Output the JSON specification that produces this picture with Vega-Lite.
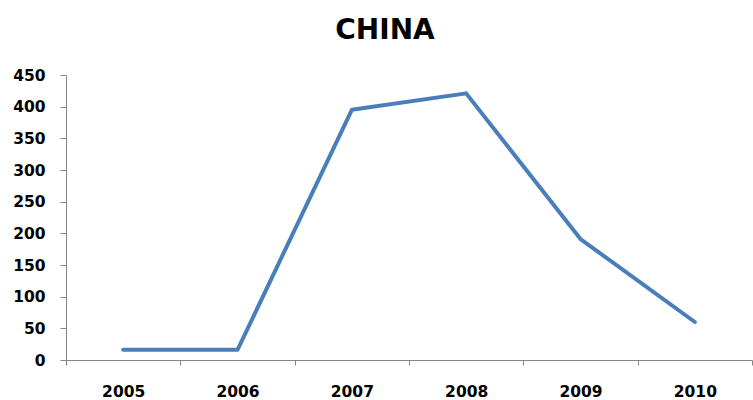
{
  "$schema": "https://vega.github.io/schema/vega-lite/v6.json",
  "width": 686,
  "height": 285,
  "autosize": "none",
  "padding": {"left": 66, "top": 75, "right": 1, "bottom": 40},
  "background": "white",
  "title": {
    "text": "CHINA",
    "fontSize": 28,
    "font": "DejaVu Sans",
    "fontWeight": "bold",
    "color": "#000000",
    "anchor": "middle",
    "dx": -24,
    "offset": 23
  },
  "data": {
    "values": [
      {"year": "2005", "value": 16},
      {"year": "2006", "value": 16},
      {"year": "2007", "value": 395},
      {"year": "2008", "value": 421},
      {"year": "2009", "value": 191},
      {"year": "2010", "value": 60}
    ]
  },
  "mark": {"type": "line", "color": "#4a7ebb", "strokeWidth": 4, "strokeJoin": "round", "strokeCap": "round"},
  "encoding": {
    "x": {
      "field": "year",
      "type": "ordinal",
      "scale": {"type": "band", "paddingInner": 0, "paddingOuter": 0},
      "axis": {
        "title": null,
        "labelAngle": 0,
        "tickBand": "extent",
        "domainColor": "#868686",
        "tickColor": "#868686",
        "tickSize": 5,
        "labelFont": "DejaVu Sans",
        "labelFontWeight": "bold",
        "labelFontSize": 15.5,
        "labelColor": "#000000",
        "labelPadding": 19,
        "grid": false
      }
    },
    "y": {
      "field": "value",
      "type": "quantitative",
      "scale": {"domain": [0, 450], "nice": false},
      "axis": {
        "title": null,
        "values": [0, 50, 100, 150, 200, 250, 300, 350, 400, 450],
        "grid": false,
        "domainColor": "#868686",
        "tickColor": "#868686",
        "tickSize": 6,
        "labelFont": "DejaVu Sans",
        "labelFontWeight": "bold",
        "labelFontSize": 15.5,
        "labelColor": "#000000",
        "labelPadding": 15
      }
    }
  },
  "config": {"view": {"stroke": null}}
}
